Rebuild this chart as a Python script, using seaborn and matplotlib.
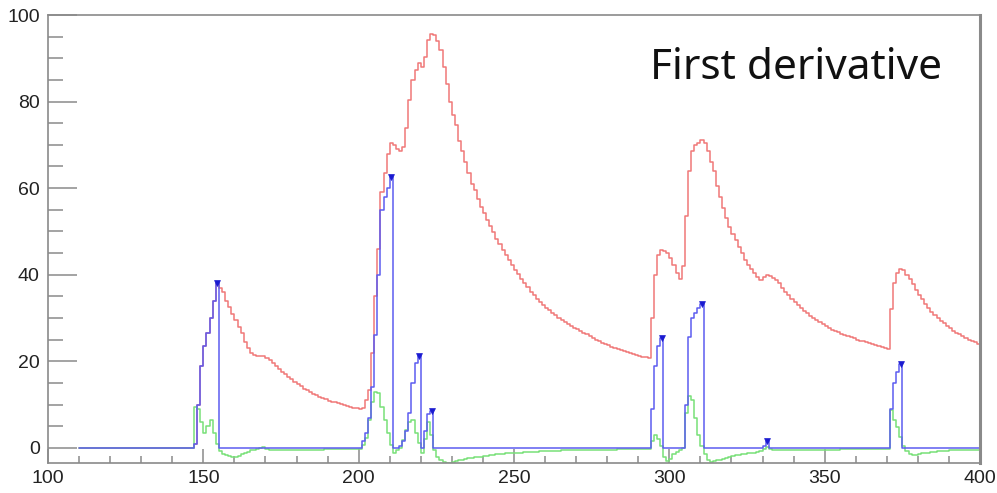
import numpy as np
import pandas as pd
import matplotlib
matplotlib.use("Agg")
import matplotlib.pyplot as plt
import seaborn as sns

# ---------------- data (bin width 1, bins start at x_start) ----------------
x_start, x_end = 110, 400

# red trace: segments (first bin, values)
red_start = [147, 155, 201, 294, 371]
red_p1 = [1, 10, 19, 23.5, 26.5, 30, 34, 38]
red_d1 = [37, 36, 34, 32.5, 31, 29.5, 28, 26.5, 24.5, 23,
          22, 21.5, 21.3, 21.3, 21.2, 20.8, 20.2, 19.5, 18.8, 18.2,
          17.6, 17, 16.4, 15.8, 15.2, 14.7, 14.2, 13.7, 13.3, 12.9,
          12.5, 12.1, 11.8, 11.5, 11.2, 10.9, 10.7, 10.5, 10.3, 10.1,
          9.9, 9.7, 9.5, 9.3, 9.1, 8.9]
red_p2 = [9.2, 11, 13.4, 22, 35, 46, 59, 63.5, 68, 70.4,
          70, 69, 68.5, 69.6, 74, 80.4, 85, 87.3, 88.8, 88,
          90.4, 94.2, 95.5, 95.4, 94, 92, 88, 84, 80, 77,
          74.5, 71, 68.5, 66, 63.5, 61, 59.5, 57.5, 55.7, 54.2,
          52.7, 51.2, 49.8, 48.3, 47, 45.8, 44.6, 43.4, 42.2, 41.1,
          40.1, 39.1, 38.1, 37.1, 36.1, 35.3, 34.5, 33.8, 33.0, 32.4,
          31.8, 31.2, 30.6, 30.0, 29.5, 29.0, 28.6, 28.2, 27.8, 27.4,
          27.0, 26.6, 26.2, 25.8, 25.4, 25.0, 24.6, 24.3, 24.0, 23.7,
          23.4, 23.1, 22.8, 22.5, 22.3, 22.1, 21.9, 21.7, 21.5, 21.3,
          21.1, 20.9, 20.7]
red_p3 = [30, 40, 44.6, 45.6, 45.5, 45, 43.8, 42.2, 40.5, 39,
          42, 53.5, 64, 68.5, 70, 70.5, 71.2, 70.5, 68.5, 66,
          64, 60.5, 58, 55.5, 53, 51, 49.3, 48, 46.5, 45,
          43.5, 42.3, 41.3, 40.3, 39.5, 38.8, 39.5, 40, 39.8, 39.3,
          38.8, 38, 37, 36, 35.2, 34.5, 33.7, 33, 32.3, 31.7,
          31.1, 30.5, 30, 29.5, 29, 28.5, 28.1, 27.7, 27.3, 27,
          26.7, 26.4, 26.1, 25.9, 25.6, 25.3, 25.0, 24.8, 24.6, 24.4,
          24.2, 24.0, 23.8, 23.5, 23.3, 23.1, 22.8]
red_p4 = [32, 38, 40.3, 41.3, 41, 40, 39, 37.8, 36.5, 35.3,
          34.3, 33.3, 32.4, 31.5, 30.8, 30.1, 29.4, 28.8, 28.2, 27.6,
          27.1, 26.6, 26.2, 25.8, 25.4, 25.0, 24.7, 24.4, 24.1]
red_segs = [red_p1, red_d1, red_p2, red_p3, red_p4]

# blue trace: pulses (first bin, values); zero elsewhere
blue_start = [147, 201, 213, 221, 294, 305, 330, 371]
blue_vals = [[1, 10, 19, 23.5, 26.5, 30, 34, 38],
             [1.5, 3.5, 7, 14, 26, 40, 55, 58, 60, 62.5],
             [0.5, 1.5, 4, 8, 15, 19.5, 21.2],
             [4, 7.8, 8.5],
             [9, 19, 23.5, 25.3],
             [10, 25.7, 30, 31.2, 32.3, 33.3],
             [0.5, 1.5],
             [9, 15, 17.5, 19.3]]

# green trace: segments (first bin, values)
green_start = [147, 201, 294, 371]
green_s1 = [9.5, 9, 6, 3.5, 5, 6.5, 3.5, 0.8, -0.8, -1.4,
            -1.7, -1.9, -2, -2, -1.8, -1.5, -1.2, -0.9, -0.6, -0.4,
            -0.2, -0.1, 0.1, -0.2, -0.4, -0.5, -0.6, -0.6, -0.6, -0.6,
            -0.6, -0.5, -0.5, -0.5, -0.5, -0.5, -0.4, -0.4, -0.4, -0.4,
            -0.4, -0.4, -0.3, -0.3, -0.3, -0.3, -0.3, -0.3, -0.3, -0.3,
            -0.2, -0.2, -0.2, -0.2]
green_s2 = [0.7, 2.2, 6.5, 10.7, 13, 12.6, 9.5, 6.5, 3.4, 0.7,
            -1.2, -0.5, 0, 1.8, 4.2, 6, 6.5, 3.4, 1.2, -1.2,
            2, 6, 3, -0.5, -2, -2.8, -3.3, -3.5, -3.5, -3.3,
            -3.1, -2.9, -2.7, -2.5, -2.4, -2.3, -2.2, -2.1, -2.0, -1.9,
            -1.8, -1.7, -1.6, -1.5, -1.5, -1.4, -1.3, -1.3, -1.2, -1.2,
            -1.1, -1.1, -1.0, -1.0, -0.9, -0.9, -0.9, -0.8, -0.8, -0.8,
            -0.7, -0.7, -0.7, -0.7, -0.6, -0.6, -0.6, -0.6, -0.6, -0.5,
            -0.5, -0.5, -0.5, -0.5, -0.5, -0.4, -0.4, -0.4, -0.4, -0.4,
            -0.4, -0.4, -0.3, -0.3, -0.3, -0.3, -0.3, -0.3, -0.3, -0.3,
            -0.3, -0.2, -0.2]
green_s3 = [1.5, 3, 2, 0.5, -2, -3, -2.5, -1.5, -1, -0.5,
            0, 8, 12, 11, 7, 3, 0.5, -1.5, -2.8, -3.2,
            -3.1, -2.9, -2.7, -2.5, -2.3, -2.1, -1.9, -1.7, -1.6, -1.5,
            -1.4, -1.3, -1.2, -1.1, -1.0, -0.8, -0.2, 0.3, -0.2, -0.6,
            -0.6, -0.6, -0.6, -0.6, -0.5, -0.5, -0.5, -0.5, -0.5, -0.5,
            -0.5, -0.4, -0.4, -0.4, -0.4, -0.4, -0.4, -0.4, -0.4, -0.4,
            -0.4, -0.3, -0.3, -0.3, -0.3, -0.3, -0.3, -0.3, -0.3, -0.3,
            -0.3, -0.3, -0.3, -0.3, -0.3, -0.3, -0.3]
green_s4 = [8.8, 6.5, 4.9, 2.6, 0.5, -0.8, -1.4, -1.6, -1.6, -1.5,
            -1.3, -1.2, -1.1, -1.0, -0.9, -0.8, -0.8, -0.7, -0.7, -0.6,
            -0.6, -0.6, -0.5, -0.5, -0.5, -0.5, -0.4, -0.4, -0.4]
green_segs = [green_s1, green_s2, green_s3, green_s4]

x_ticks = [100, 150, 200, 250, 300, 350, 400]
y_ticks = [0, 20, 40, 60, 80, 100]
title_text = "First derivative"

# ---------------- assemble step histograms ----------------
n = x_end - x_start
edges = np.arange(x_start, x_end + 1)


def build(starts, segs):
    arr = np.zeros(n)
    for s, v in zip(starts, segs):
        i = s - x_start
        arr[i:i + len(v)] = v[: n - i]
    return np.append(arr, arr[-1])


red = build(red_start, red_segs)
blue = build(blue_start, blue_vals)
green = build(green_start, green_segs)
peak_x = [s + len(v) - 0.5 for s, v in zip(blue_start, blue_vals)]
peak_y = [v[-1] for v in blue_vals]

df = pd.DataFrame({"x": edges, "red": red, "blue": blue, "green": green})
pk = pd.DataFrame({"x": peak_x, "y": peak_y})

# ---------------- plot ----------------
sns.set_style("white")
plt.rcParams["font.family"] = ["Liberation Sans", "DejaVu Sans"]

fig = plt.figure(figsize=(9.97, 4.93), dpi=100)
ax = fig.add_axes([48 / 997, 1 - 463 / 493, (980 - 48) / 997, (463 - 15) / 493])

sns.lineplot(data=df, x="x", y="red", drawstyle="steps-post", color="#f07878",
             linewidth=1.1, ax=ax, estimator=None, sort=False)
sns.lineplot(data=df, x="x", y="green", drawstyle="steps-post", color="#78e078",
             linewidth=1.1, ax=ax, estimator=None, sort=False)
sns.lineplot(data=df, x="x", y="blue", drawstyle="steps-post", color="#5c5cf0",
             linewidth=1.1, ax=ax, estimator=None, sort=False)
sns.scatterplot(data=pk, x="x", y="y", marker="v", s=18, color="#1a1ad0",
                edgecolor="#1a1ad0", linewidth=0.5, ax=ax, zorder=5)

ax.set_xlim(100, 400)
ax.set_ylim(-3.5, 100)
ax.set_xlabel("")
ax.set_ylabel("")
ax.set_xticks(x_ticks)
ax.set_yticks(y_ticks)
ax.set_xticks(np.arange(100, 401, 10), minor=True)
ax.set_yticks(np.arange(0, 101, 5), minor=True)

frame_col = "#8a8a8a"
for sp in ax.spines.values():
    sp.set_color(frame_col)
    sp.set_linewidth(1.2)
ax.spines["right"].set_linewidth(2.2)

ax.tick_params(axis="y", which="major", direction="in", length=21, width=1.1,
               color=frame_col, labelsize=14, labelcolor="#222222", pad=6)
ax.tick_params(axis="y", which="minor", direction="in", length=11, width=1.1,
               color=frame_col)
ax.tick_params(axis="x", which="major", direction="in", length=10, width=1.1,
               color=frame_col, labelsize=14, labelcolor="#222222", pad=5)
ax.tick_params(axis="x", which="minor", direction="in", length=5, width=1.1,
               color=frame_col)
ax.tick_params(left=True, bottom=True, top=False, right=False)
ax.tick_params(which="minor", left=True, bottom=True, top=False, right=False)

fig.text(650 / 997, 1 - 79 / 493, title_text, fontsize=30.5, color="#111111",
         family=["Noto Sans", "DejaVu Sans"], ha="left", va="baseline")

fig.savefig("out.png", dpi=100)
